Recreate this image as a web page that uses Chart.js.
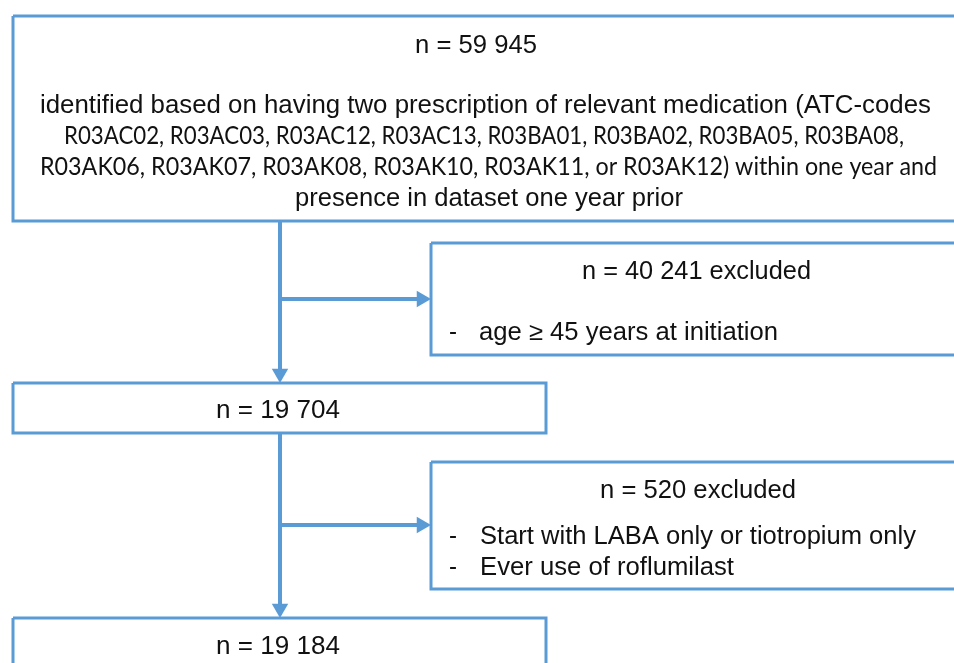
<!DOCTYPE html>
<html lang="en">
<head>
    <meta charset="UTF-8">
    <title>Cohort flow chart</title>
    <script src="https://cdn.jsdelivr.net/npm/chart.js"></script>
    <style>
        body { margin: 0; background: #fff; }
    </style>
</head>
<body>
    <canvas id="myChart" width="954" height="663"></canvas>
    <script>
        // counts shown in the boxes
        const counts = ["59 945", "40 241", "19 704", "520", "19 184"];

        // box corners in chart units [x0, y0, x1, y1]
        const boxes = [
            [13, 16, 962, 221],
            [431, 243, 962, 355],
            [13, 383, 546, 433],
            [431, 462, 962, 589],
            [13, 618, 546, 680]
        ];

        // connectors: [x0, y0, x1, y1] (the end is where the arrow tip is)
        const arrows = [
            [280, 221, 280, 383],
            [280, 299, 431, 299],
            [280, 433, 280, 618],
            [280, 525, 431, 525]
        ];

        // text lines: [text, centre x or left x, baseline y, width, font, align]
        const texts = [
            ["n = " + counts[0], 476, 53, 122, "arial", "center"],
            ["identified based on having two prescription of relevant medication (ATC-codes", 485.5, 113, 891, "arial", "center"],
            ["R03AC02, R03AC03, R03AC12, R03AC13, R03BA01, R03BA02, R03BA05, R03BA08,", 484, 144, 840, "calibri", "center"],
            ["R03AK06, R03AK07, R03AK08, R03AK10, R03AK11, or R03AK12) within one year and", 488.5, 175, 897, "calibri", "center"],
            ["presence in dataset one year prior", 489, 206, 388, "arial", "center"],
            ["n = " + counts[1] + " excluded", 696.5, 279, 229, "arial", "center"],
            ["-", 449, 340, 8, "arial", "left"],
            ["age \u2265 45 years at initiation", 479, 340, 299, "arial", "left"],
            ["n = " + counts[2], 278, 418, 124, "arial", "center"],
            ["n = " + counts[3] + " excluded", 698, 498, 196, "arial", "center"],
            ["-", 449, 544, 8, "arial", "left"],
            ["Start with LABA only or tiotropium only", 480, 544, 436, "arial", "left"],
            ["-", 449, 575, 8, "arial", "left"],
            ["Ever use of roflumilast", 480, 575, 254, "arial", "left"],
            ["n = " + counts[4], 278, 654, 124, "arial", "center"]
        ];

        const blue = "#5B9BD5";
        const fonts = {
            arial: "25px 'Liberation Sans', Arial, sans-serif",
            calibri: "25px Lato, 'Open Sans', sans-serif"
        };

        const datasets = [];
        boxes.forEach((b) => {
            datasets.push({
                data: [
                    { x: b[0], y: b[1] }, { x: b[2], y: b[1] },
                    { x: b[2], y: b[3] }, { x: b[0], y: b[3] },
                    { x: b[0], y: b[1] }
                ],
                showLine: true,
                borderColor: blue,
                borderWidth: 3,
                borderJoinStyle: "miter",
                pointRadius: 0
            });
        });

        const headR = 9.5;
        arrows.forEach((a) => {
            const down = a[0] === a[2];
            // shaft stops where the head begins
            const endX = down ? a[2] : a[2] - headR * 1.4;
            const endY = down ? a[3] - headR * 1.4 : a[3];
            datasets.push({
                data: [{ x: a[0], y: a[1] }, { x: endX, y: endY }],
                showLine: true,
                borderColor: blue,
                borderWidth: 4,
                pointRadius: 0
            });
            datasets.push({
                data: [{ x: down ? a[2] : a[2] - headR, y: down ? a[3] - headR : a[3] }],
                pointStyle: "triangle",
                pointRadius: headR,
                pointRotation: down ? 180 : 90,
                pointBackgroundColor: blue,
                pointBorderColor: blue,
                pointBorderWidth: 0
            });
        });

        const textPlugin = {
            id: "boxText",
            afterDatasetsDraw(chart) {
                const ctx = chart.ctx;
                const xs = chart.scales.x;
                const ys = chart.scales.y;
                ctx.save();
                ctx.fillStyle = "#111";
                ctx.textBaseline = "alphabetic";
                ctx.textAlign = "left";
                texts.forEach((t) => {
                    ctx.font = fonts[t[4]];
                    const w = ctx.measureText(t[0]).width;
                    const sx = t[3] / w;
                    let px = xs.getPixelForValue(t[1]);
                    if (t[5] === "center") px -= t[3] / 2;
                    ctx.save();
                    ctx.translate(px, ys.getPixelForValue(t[2]));
                    ctx.scale(sx, 1);
                    ctx.fillText(t[0], 0, 0);
                    ctx.restore();
                });
                ctx.restore();
            }
        };

        new Chart(document.getElementById("myChart"), {
            type: "scatter",
            data: { datasets: datasets },
            options: {
                responsive: false,
                animation: false,
                devicePixelRatio: 1,
                layout: { padding: 0, autoPadding: false },
                plugins: { legend: { display: false }, tooltip: { enabled: false } },
                scales: {
                    x: { type: "linear", min: 0, max: 954, display: false },
                    y: { type: "linear", min: 0, max: 663, reverse: true, display: false }
                }
            },
            plugins: [textPlugin]
        });
    </script>
</body>
</html>
